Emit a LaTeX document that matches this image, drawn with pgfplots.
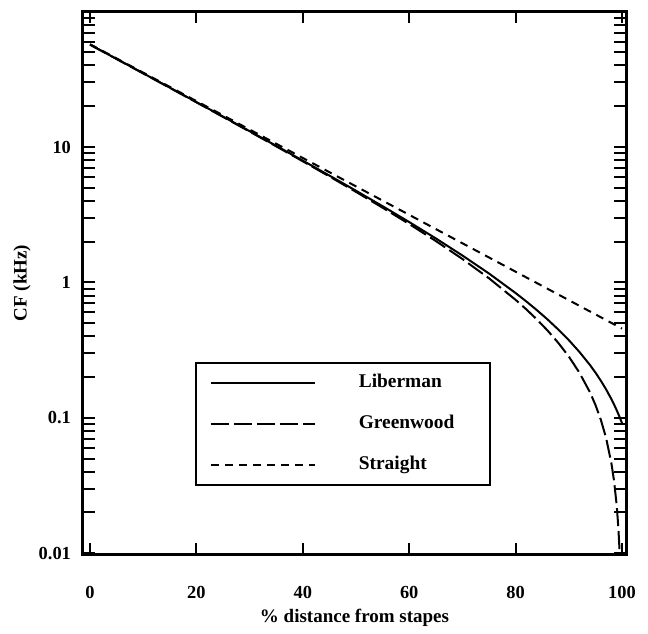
\documentclass[border=0pt]{standalone}
\usepackage{fontspec}
\setmainfont{Liberation Serif}
\usepackage{pgfplots}
\pgfplotsset{compat=1.18}
\begin{document}
\begin{tikzpicture}
\begin{axis}[
  name=ax,
  scale only axis,
  width=271.5pt, height=272pt,
  xmin=-1.32, xmax=100.75,
  ymode=log, ymin=0.0097, ymax=101,
  xtick={0,20,40,60,80,100},
  ytick={0.01,0.1,1,10},
  yticklabels={0.01,0.1,1,10},
  minor ytick={0.02,0.03,0.04,0.05,0.06,0.07,0.08,0.09,0.2,0.3,0.4,0.5,0.6,0.7,0.8,0.9,2,3,4,5,6,7,8,9,20,30,40,50,60,70,80,90},
  tick align=inside,
  major tick length=6pt, minor tick length=6pt,
  every tick/.style={line width=1pt, black},
  axis line style={line width=1.5pt},
  ticklabel style={font=\fontsize{9.2}{10}\selectfont\bfseries},
  /pgf/number format/assume math mode=true,
  xticklabel style={yshift=-12pt},
  yticklabel style={xshift=-2.5pt},
  xlabel={\% distance from stapes},
  ylabel={CF (kHz)},
  label style={font=\fontsize{9.5}{12}\selectfont\bfseries},
  xlabel style={at={(axis description cs:0.5,0)}, anchor=center, yshift=-31.5pt},
  ylabel style={at={(axis description cs:-0.1123,0.5)}, anchor=center},
  legend style={at={(axis description cs:0.206,0.355)}, anchor=north west,
    draw=black, line width=1pt, inner xsep=7pt, inner ysep=5.5pt,
    row sep=11.5pt, column sep=21.5pt,
    font=\fontsize{9.7}{12}\selectfont\bfseries,
    nodes={inner sep=0pt, text height=7pt, text depth=2pt}},
  legend cell align=left,
  legend image code/.code={\draw[#1] (0pt,0pt) -- (52pt,0pt);},
]
% Liberman
\addplot[black, line width=1pt] coordinates {
(0,57.04) (5,44.71) (10,35.03) (15,27.43) (20,21.46) (25,16.77) (30,13.09)
(35,10.20) (40,7.933) (45,6.151) (50,4.752) (55,3.653) (60,2.790) (65,2.113)
(70,1.580) (75,1.163) (80,0.8345) (82,0.7241) (84,0.6238) (86,0.5326)
(88,0.4496) (90,0.3748) (92,0.3064) (94,0.2449) (95,0.2159) (96,0.1885)
(97,0.1624) (98,0.1375) (98.5,0.1255) (99,0.1138) (99.5,0.1024) (100,0.0912)
};
\addlegendentry{\makebox[58.5pt][l]{Liberman}}
% Greenwood
\addplot[black, line width=1pt, dash pattern=on 9pt off 2.5pt] coordinates {
(0,56.95) (5,44.62) (10,34.94) (15,27.34) (20,21.37) (25,16.68) (30,13.00)
(35,10.11) (40,7.842) (45,6.060) (50,4.660) (55,3.561) (60,2.699) (65,2.021)
(70,1.489) (75,1.072) (80,0.7433) (82,0.6329) (84,0.5326) (86,0.4414)
(88,0.3584) (90,0.2836) (92,0.2152) (94,0.1537) (95,0.1247) (96,0.0973)
(97,0.0712) (98,0.0463) (98.5,0.0343) (99,0.0226) (99.3,0.0157) (99.5,0.0112)
(99.7,0.00666)
};
\addlegendentry{\makebox[58.5pt][l]{Greenwood}}
% Straight
\addplot[black, line width=1pt, dash pattern=on 4pt off 3pt] coordinates {
(0,57.41) (100,0.456)
};
\addlegendentry{\makebox[58.5pt][l]{Straight}}
\end{axis}
\path ([shift={(-41.5pt,-36.5pt)}]ax.south west) rectangle ([shift={(11pt,5.5pt)}]ax.north east);
\end{tikzpicture}
\end{document}
